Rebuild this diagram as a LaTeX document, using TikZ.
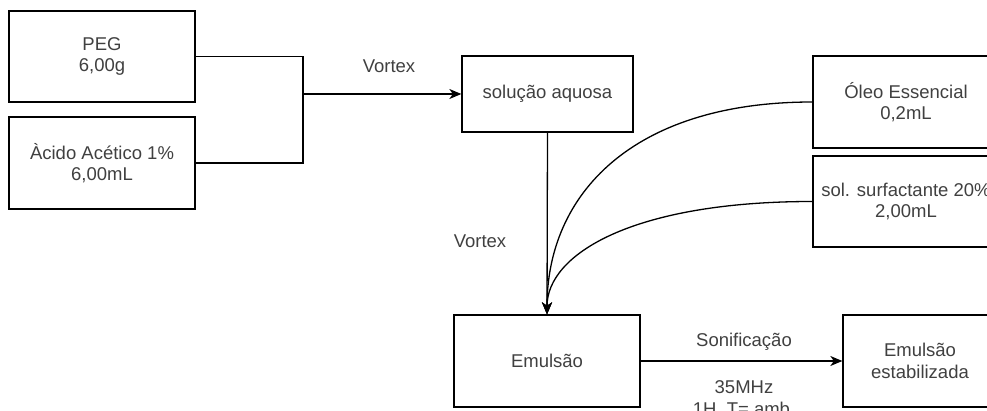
\documentclass[tikz,border=0pt]{standalone}
\usepackage{fontspec}
\setmainfont{Liberation Sans}
\usetikzlibrary{arrows.meta,positioning}
\definecolor{textGray}{RGB}{64,64,64}

\begin{document}
\begin{tikzpicture}[x=1pt,y=-1pt,line width=1.3pt,
  >={Stealth[length=12pt,width=10pt,inset=3.5pt]},
  every node/.style={font=\fontsize{18.5}{21.5}\selectfont,text=textGray,align=center,inner sep=0pt},
  caixa/.style={draw,minimum width=186pt,minimum height=91pt}]
\path[use as bounding box,clip] (0,0) rectangle (987,411);
\node[caixa] (peg) at (102,56.5) {PEG\\6,00g};
\node[caixa,minimum height=92pt] (acido) at (102,163) {Àcido Acético 1\%\\6,00mL};
\coordinate (join) at (303,94);
\node[caixa,minimum width=171pt,minimum height=76pt] (aquosa) at (547.5,94) {solução aquosa};
\node[caixa,minimum height=92pt] (oleo) at (906,102) {Óleo Essencial\\0,2mL};
\node[caixa] (surf) at (906,201.5) {sol. surfactante 20\%\\2,00mL};
\node[caixa,minimum height=92pt] (emul) at (547,361) {Emulsão};
\node[caixa,minimum width=154pt,minimum height=92pt] (estab) at (920,361) {Emulsão\\estabilizada};
% labels
\node (vortexA) at (389,66) {Vortex};
\node (vortexB) at (480,241) {Vortex};
\node (sonif) at (744,342) {Sonificação};
\node (cond) at (744,398) {35MHz\\1H\ \ T= amb.};
% connectors
\draw (peg.east) -| (join);
\draw (acido.east) -| (join);
\draw[->] (join) -- (aquosa.west);
\draw[->] (aquosa.south) -- (emul.north);
\draw[->] (oleo.west) .. controls +(-180,0) and +(0,-120) .. (emul.north);
\draw[->] (surf.west) .. controls +(-180,0) and +(0,-60) .. (emul.north);
\draw[->] (emul.east) -- (estab.west);
\end{tikzpicture}
\end{document}
